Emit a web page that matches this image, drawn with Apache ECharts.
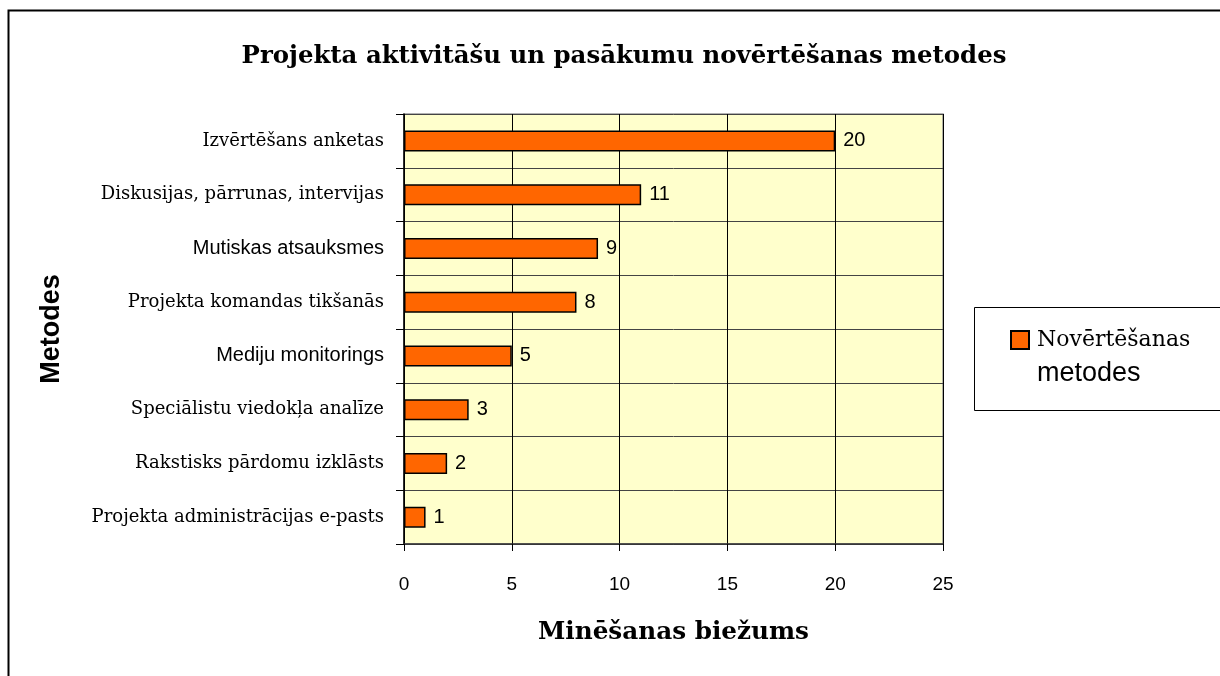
<!DOCTYPE html>
<html>
<head>
<meta charset="utf-8">
<script src="https://cdn.jsdelivr.net/npm/echarts@6/dist/echarts.min.js"></script>
<style>
html, body { margin: 0; padding: 0; background: #fff; }
#main { width: 1220px; height: 676px; }
</style>
</head>
<body>
<div id="main"></div>
<script>
var categories = ['Izvērtēšans anketas', 'Diskusijas, pārrunas, intervijas', 'Mutiskas atsauksmes',
    'Projekta komandas tikšanās', 'Mediju monitorings', 'Speciālistu viedokļa analīze',
    'Rakstisks pārdomu izklāsts', 'Projekta administrācijas e-pasts'];
var values = [20, 11, 9, 8, 5, 3, 2, 1];
var sansLabels = ['Mutiskas atsauksmes', 'Mediju monitorings'];
var xTicks = [0, 5, 10, 15, 20, 25];
var seriesName = 'Novērtēšanas metodes';

var serif = '"DejaVu Serif", "Liberation Serif", serif';
var sans = '"Liberation Sans", Arial, sans-serif';

var myChart = echarts.init(document.getElementById('main'));

option = {
    backgroundColor: '#fff',
    animation: false,
    title: {
        text: 'Projekta aktivitāšu un pasākumu novērtēšanas metodes',
        left: 619,
        textAlign: 'center',
        top: 40,
        textStyle: { fontFamily: serif, fontWeight: 'bold', fontSize: 24.4, color: '#000' }
    },
    graphic: [
        {   // outer chart border
            type: 'rect',
            shape: { x: 8.5, y: 10.5, width: 1300, height: 800 },
            style: { fill: 'none', stroke: '#000', lineWidth: 2 },
            z: -1
        },
        {   // legend box
            type: 'rect',
            shape: { x: 974.5, y: 307.5, width: 260, height: 103 },
            style: { fill: '#fff', stroke: '#000', lineWidth: 1 },
            z: 1
        }
    ],
    legend: {
        data: [seriesName],
        left: 1005,
        top: 324,
        itemWidth: 18,
        itemHeight: 18,
        itemGap: 0,
        icon: 'rect',
        z: 5,
        formatter: function () { return '{a|Novērtēšanas}\n{b|metodes}'; },
        textStyle: {
            padding: [40, 0, 0, 3],
            rich: {
                a: { fontFamily: serif, fontSize: 22, color: '#000', lineHeight: 28 },
                b: { fontFamily: sans, fontSize: 27, color: '#000', lineHeight: 40 }
            }
        }
    },
    grid: {
        left: 404,
        right: 277,
        top: 114,
        bottom: 132,
        show: true,
        backgroundColor: '#ffffcc',
        borderColor: '#999',
        borderWidth: 1.5
    },
    xAxis: {
        type: 'value',
        min: xTicks[0],
        max: xTicks[xTicks.length - 1],
        interval: 5,
        name: 'Minēšanas biežums',
        nameLocation: 'middle',
        nameGap: 76,
        nameTextStyle: { fontFamily: serif, fontWeight: 'bold', fontSize: 24.7, color: '#000' },
        axisLine: { show: true, lineStyle: { color: '#333', width: 1.5 } },
        axisTick: { show: true, length: 7, lineStyle: { color: '#000' } },
        axisLabel: { margin: 31, fontFamily: sans, fontSize: 19, color: '#000' },
        splitLine: { show: true, lineStyle: { color: '#000', width: 1 } }
    },
    yAxis: {
        type: 'category',
        inverse: true,
        data: categories,
        name: 'Metodes',
        nameLocation: 'middle',
        nameGap: 339,
        nameTextStyle: { fontFamily: sans, fontWeight: 'bold', fontSize: 27, color: '#000' },
        axisLine: { show: true, lineStyle: { color: '#000', width: 1.5 } },
        axisTick: { show: true, length: 8, lineStyle: { color: '#000' } },
        splitLine: { show: true, lineStyle: { color: '#444', width: 1 } },
        axisLabel: {
            margin: 20,
            color: '#000',
            formatter: function (v) {
                return sansLabels.indexOf(v) >= 0 ? '{s|' + v + '}' : '{r|' + v + '}';
            },
            rich: {
                r: { fontFamily: serif, fontSize: 18, color: '#000' },
                s: { fontFamily: sans, fontSize: 20, color: '#000' }
            }
        }
    },
    series: [
        {
            name: seriesName,
            type: 'bar',
            data: values,
            barWidth: 21,
            itemStyle: { color: '#ff6600', borderColor: '#000', borderWidth: 1.5 },
            label: {
                show: true,
                position: 'right',
                distance: 8,
                fontFamily: sans,
                fontSize: 20,
                color: '#000'
            }
        }
    ]
};

if (option && typeof option === "object") {
    myChart.setOption(option, true);
}
</script>
</body>
</html>
